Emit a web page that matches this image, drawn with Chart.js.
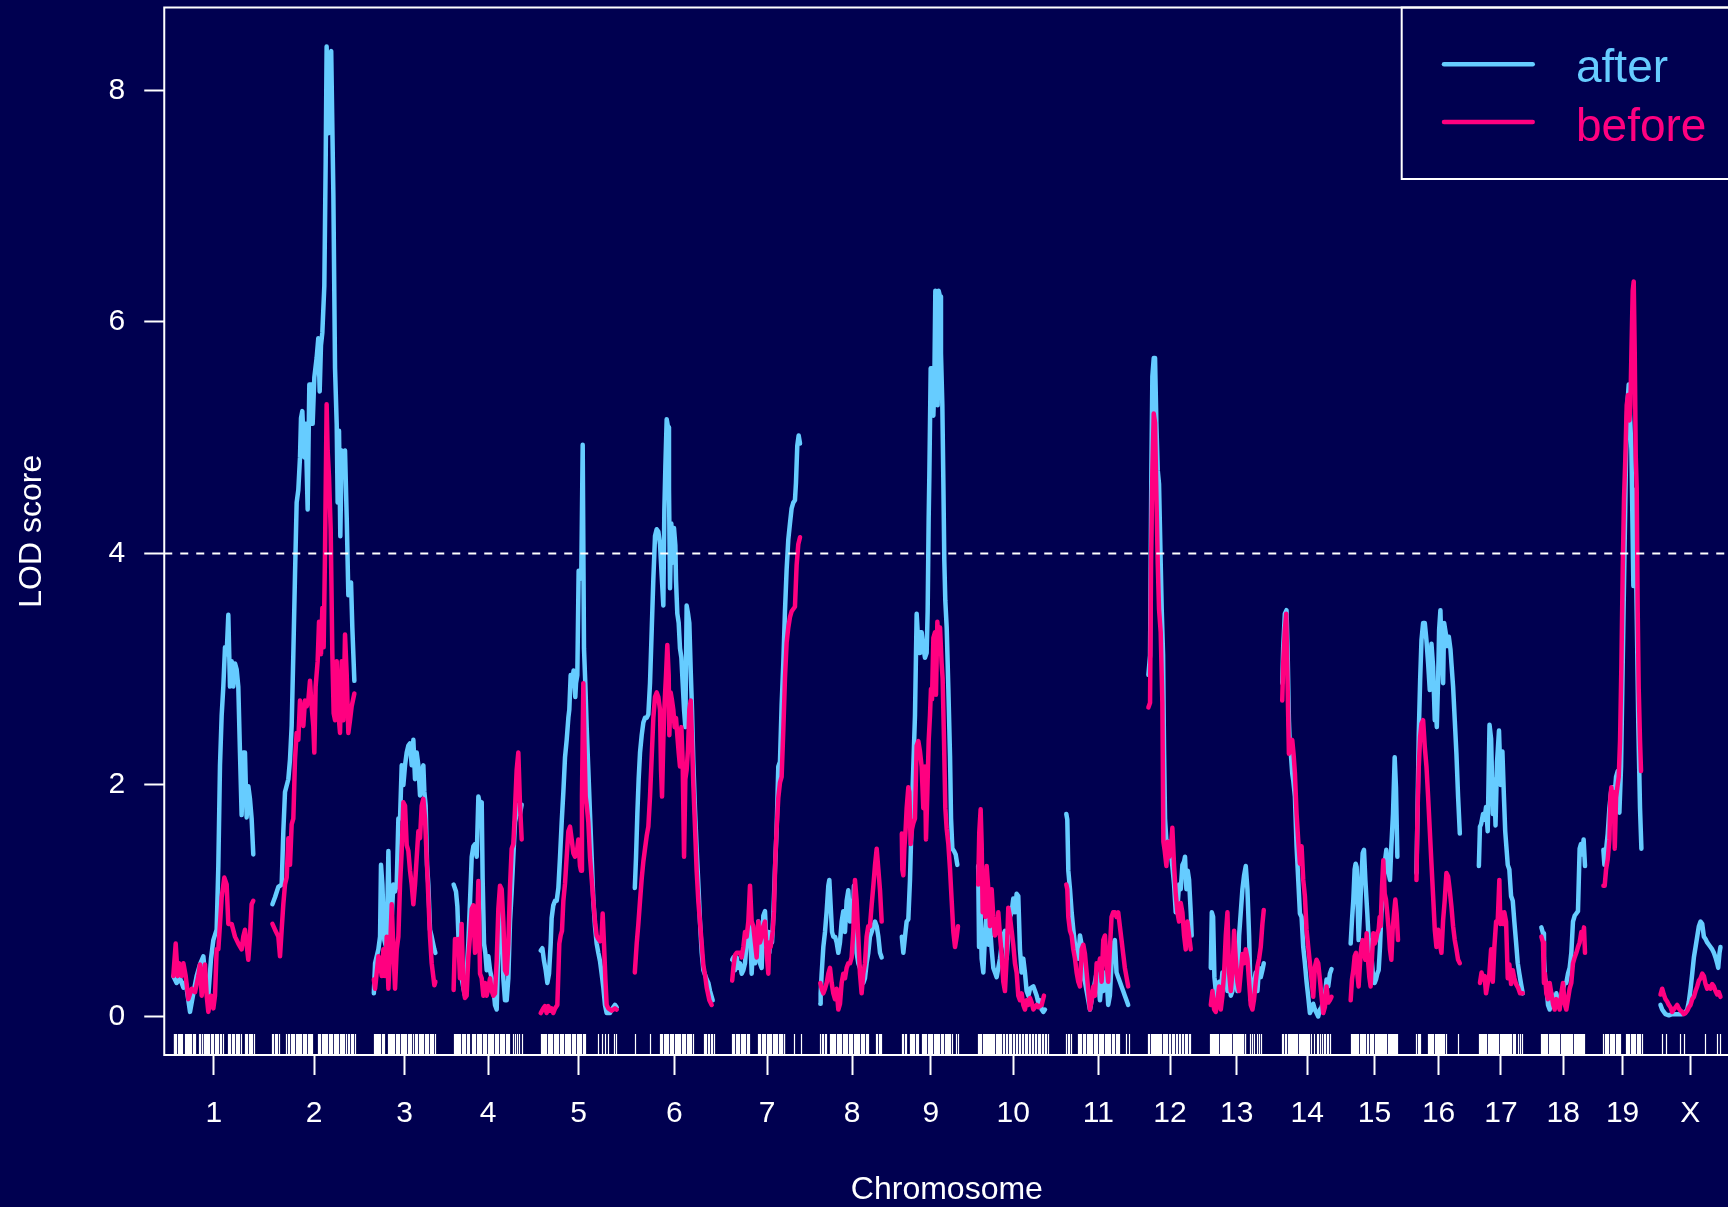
<!DOCTYPE html>
<html>
<head>
<meta charset="utf-8">
<title>LOD score by chromosome</title>
<script src="https://cdn.jsdelivr.net/npm/chart.js@4.4.1/dist/chart.umd.min.js"></script>
<style>
  html, body { margin: 0; padding: 0; background: #000050; overflow: hidden; }
  #wrap { width: 1740px; height: 1207px; }
  canvas { display: block; }
</style>
</head>
<body>
<div id="wrap"><canvas id="lod" width="1740" height="1207"></canvas></div>
<script>
// ---- genome layout (cM) ----
const chromNames = ['1','2','3','4','5','6','7','8','9','10','11','12','13','14','15','16','17','18','19','X'];
const chromLengths = [111.9, 115.1, 85.2, 95.3, 105.0, 109.5, 96.7, 87.6, 80.5, 96.7, 88.4, 59.8, 74.6, 70.0, 65.9, 61.2, 60.8, 61.2, 53.0, 83.7];
const chromGap = 25;
const yTicks = [0, 2, 4, 6, 8];
const lodThreshold = 4;
const seriesNames = ['after', 'before'];

// ---- LOD profiles: [position within chromosome (cM), LOD] ----
const chr1After = [[0,0.35],[4.6,0.29],[9.3,0.33],[13.9,0.25],[17.1,0.3],[23.1,0.04],[27.7,0.2],[32.3,0.35],[36.9,0.45],[41.5,0.52],[44.7,0.3],[48.4,0.18],[52.1,0.5],[55.3,0.66],[59.9,0.75],[62.2,1.3],[64.5,2.17],[66.8,2.6],[69.1,2.85],[71.4,3.19],[73.7,3.13],[76.0,3.47],[78.3,2.85],[80.6,3.07],[82.9,2.85],[85.2,3.05],[87.5,3.0],[89.8,2.85],[92.1,2.28],[94.4,1.74],[96.7,2.28],[99.0,2.28],[101.3,1.72],[103.6,1.99],[105.9,1.88],[108.2,1.71],[110.5,1.40]];
const chr1Before = [[0,0.35],[3.3,0.63],[6.0,0.35],[7.9,0.46],[11.6,0.35],[13.9,0.46],[17.1,0.35],[20.8,0.15],[25.4,0.24],[30.0,0.21],[34.6,0.35],[36.9,0.45],[39.2,0.18],[43.8,0.45],[46.1,0.18],[48.4,0.04],[52.1,0.18],[55.3,0.07],[57.6,0.18],[59.9,0.58],[62.2,0.58],[64.5,0.8],[66.8,1.03],[70.5,1.2],[73.7,1.14],[76.0,0.8],[80.6,0.8],[85.2,0.69],[89.8,0.63],[94.4,0.58],[96.7,0.69],[99.0,0.75],[103.6,0.49],[105.9,0.69],[108.2,0.97],[110.5,1.0]];
const chr2After = [[0,0.97],[3.6,1.03],[8.2,1.12],[12.8,1.14],[15.1,1.6],[17.4,1.94],[22.0,2.05],[24.3,2.22],[26.6,2.51],[28.9,3.13],[31.2,3.81],[33.5,4.44],[35.8,4.55],[38.1,4.83],[39.5,5.17],[41.3,5.23],[44.1,4.83],[45.9,5.12],[48.7,4.38],[51.0,5.46],[54.2,5.46],[55.6,5.12],[57.9,5.52],[61.1,5.69],[63.4,5.86],[65.3,5.4],[67.1,5.8],[69.0,5.91],[71.7,6.31],[73.6,7.39],[74.9,8.38],[77.3,7.63],[79.1,8.3],[81.2,8.34],[84.2,7.1],[86.5,5.6],[88.8,5.12],[90.1,4.44],[92.0,5.06],[93.8,4.15],[95.7,4.89],[98.0,4.83],[100.3,4.89],[102.6,4.32],[104.9,3.64],[108.6,3.75],[110.4,3.36],[113.2,2.9]];
const chr2Before = [[0,0.8],[3.6,0.75],[8.2,0.69],[10.5,0.52],[12.8,0.75],[15.1,0.97],[17.4,1.14],[19.7,1.2],[22.0,1.54],[24.3,1.31],[26.6,1.66],[28.9,1.71],[31.2,2.22],[33.5,2.45],[35.8,2.39],[38.1,2.73],[40.4,2.62],[42.7,2.51],[45.0,2.73],[47.3,2.68],[49.6,2.73],[51.9,2.9],[54.2,2.68],[56.5,2.51],[57.9,2.28],[59.7,2.85],[62.5,3.07],[64.4,3.41],[67.1,3.13],[69.0,3.53],[70.8,3.19],[72.6,3.98],[74.9,5.29],[76.3,4.89],[78.2,4.66],[80.5,4.21],[82.8,3.13],[84.6,2.62],[86.5,2.56],[88.8,3.07],[91.1,2.62],[93.4,2.45],[95.7,3.07],[98.0,2.56],[100.3,3.3],[102.6,2.96],[104.9,2.45],[107.2,2.56],[109.5,2.68],[113.2,2.79]];
const chr3After = [[0,0.2],[1.7,0.46],[6.3,0.58],[8.6,0.69],[9.9,1.31],[11.8,1.14],[14.5,0.66],[17.8,0.58],[20.1,1.43],[22.4,0.69],[24.7,0.86],[27.0,1.14],[29.3,1.08],[31.6,1.14],[33.9,1.71],[36.2,1.71],[38.5,2.17],[40.8,2.0],[43.1,2.17],[45.4,2.28],[47.7,2.34],[50.0,2.36],[52.3,2.17],[54.6,2.39],[56.9,2.05],[59.2,2.28],[61.5,2.17],[63.8,1.91],[66.1,2.11],[68.4,2.17],[69.8,1.94],[71.6,1.82],[73.5,1.31],[75.3,1.14],[77.6,0.75],[79.9,0.69],[83.6,0.58],[85.0,0.55]];
const chr3Before = [[0,0.32],[1.7,0.24],[6.3,0.52],[8.6,0.46],[10.9,0.35],[13.2,0.58],[15.5,0.35],[17.8,0.69],[20.1,0.24],[22.4,0.58],[24.7,0.97],[27.0,0.58],[29.3,0.24],[31.6,0.58],[33.9,0.69],[36.2,1.14],[38.5,1.43],[40.8,1.85],[43.1,1.82],[45.4,1.48],[47.7,1.43],[50.0,1.26],[52.3,1.14],[54.6,0.97],[56.9,1.14],[59.2,1.37],[61.5,1.6],[63.8,1.54],[66.1,1.82],[68.4,1.88],[70.7,1.71],[73.0,1.37],[75.3,1.03],[77.6,0.69],[79.9,0.46],[83.6,0.27],[85.0,0.3]];
const chr4After = [[0,1.14],[3.3,1.08],[5.2,0.95],[7.0,0.63],[8.8,0.56],[11.1,0.33],[13.4,0.25],[15.7,0.18],[18.0,0.36],[20.3,0.63],[22.7,1.0],[25.0,1.38],[27.3,1.47],[29.6,1.49],[31.9,1.38],[34.2,1.9],[36.5,1.83],[38.8,1.85],[40.1,1.19],[42.0,0.63],[43.8,0.55],[45.7,0.4],[48.0,0.52],[50.3,0.4],[52.6,0.33],[54.9,0.25],[57.2,0.1],[59.5,0.06],[61.8,0.63],[64.1,1.0],[66.4,0.82],[68.7,0.33],[71.0,0.14],[73.3,0.14],[75.6,0.33],[77.9,0.82],[80.2,1.08],[82.5,1.38],[84.8,1.68],[87.1,1.75],[89.4,1.83],[91.7,1.75],[94.0,1.83]];
const chr4Before = [[0,0.23],[1.9,0.67],[4.2,0.59],[6.5,0.67],[8.8,0.33],[11.1,0.8],[13.4,0.25],[15.7,0.16],[18.0,0.18],[20.3,0.51],[22.7,0.7],[25.0,0.93],[27.3,0.96],[29.6,0.55],[31.9,0.63],[34.2,1.17],[36.5,0.37],[38.8,0.33],[41.1,0.18],[43.4,0.29],[45.7,0.18],[48.0,0.25],[50.3,0.33],[52.6,0.22],[54.9,0.18],[57.2,0.2],[59.5,0.48],[61.8,0.93],[64.1,1.13],[66.4,1.1],[68.7,0.82],[71.0,0.4],[73.3,0.37],[75.6,0.63],[77.9,1.12],[80.2,1.45],[82.5,1.49],[84.8,1.79],[87.1,2.13],[89.4,2.28],[91.7,1.83],[94.0,1.53]];
const chr5After = [[0,0.57],[2.3,0.59],[4.6,0.48],[6.9,0.4],[9.2,0.29],[11.5,0.37],[13.8,0.63],[15.1,0.85],[17.4,0.96],[19.8,1.0],[22.1,1.0],[24.4,1.11],[26.7,1.38],[29.0,1.68],[31.3,1.94],[33.6,2.24],[35.9,2.39],[38.2,2.58],[39.5,2.65],[41.4,2.95],[43.2,2.88],[45.5,2.99],[47.8,2.76],[48.8,2.88],[50.6,2.95],[52.4,3.85],[54.3,3.78],[56.1,3.85],[58.0,4.94],[59.8,3.18],[61.6,2.88],[63.5,2.5],[65.8,2.13],[68.1,1.75],[70.4,1.38],[72.7,1.0],[75.0,0.78],[77.3,0.63],[79.6,0.55],[81.9,0.48],[84.2,0.37],[86.5,0.25],[88.8,0.1],[91.1,0.03],[95.7,0.03],[98.0,0.06],[102.6,0.1],[105.0,0.08]];
const chr5Before = [[0,0.03],[3.6,0.07],[5.9,0.09],[8.2,0.03],[10.5,0.09],[12.9,0.05],[15.1,0.07],[17.4,0.03],[19.8,0.07],[23.0,0.1],[25.7,0.63],[27.6,0.7],[29.4,0.74],[31.3,1.0],[33.6,1.15],[35.9,1.38],[38.2,1.6],[40.5,1.64],[42.8,1.53],[45.1,1.41],[47.4,1.38],[49.7,1.41],[52.0,1.53],[54.3,1.3],[55.7,1.26],[57.0,1.9],[58.9,2.88],[60.3,2.39],[62.1,1.9],[63.5,1.83],[65.8,1.68],[68.1,1.38],[70.4,1.19],[72.7,1.0],[75.0,0.82],[77.3,0.7],[79.6,0.67],[81.9,0.65],[84.2,0.7],[85.6,0.89],[87.4,0.63],[89.3,0.33],[91.1,0.1],[93.4,0.07],[98.0,0.05],[102.6,0.07],[105.0,0.06]];
const chr6After = [[0,1.11],[1.7,1.38],[3.5,1.75],[5.3,2.05],[7.2,2.28],[9.5,2.43],[11.8,2.54],[14.1,2.58],[16.4,2.58],[18.7,2.61],[21.0,2.88],[23.3,3.33],[25.6,3.78],[27.9,4.15],[30.2,4.21],[32.5,4.19],[34.8,4.08],[37.1,3.81],[39.4,3.55],[40.8,4.38],[42.2,4.75],[44.0,5.16],[45.9,5.09],[47.2,4.56],[48.6,3.7],[50.4,4.26],[52.3,3.92],[54.1,4.22],[56.0,4.07],[56.9,3.77],[58.7,3.48],[60.6,3.4],[62.4,3.18],[64.3,3.1],[66.1,2.88],[68.0,2.65],[69.8,2.5],[71.6,3.55],[73.5,3.48],[75.3,3.4],[77.2,2.99],[79.0,2.65],[80.8,2.2],[83.1,1.79],[85.4,1.45],[87.7,1.15],[90.1,0.81],[92.4,0.55],[94.7,0.4],[97.0,0.36],[99.3,0.32],[101.6,0.29],[103.9,0.22],[107.6,0.14]];
const chr6Before = [[0,0.38],[2.6,0.63],[4.9,0.8],[7.2,1.0],[9.5,1.19],[11.8,1.34],[14.1,1.45],[16.4,1.56],[18.7,1.64],[21.0,1.9],[23.3,2.24],[25.6,2.58],[27.9,2.76],[30.2,2.8],[32.5,2.76],[34.8,2.65],[36.2,2.13],[37.6,1.9],[39.4,2.39],[41.3,2.73],[43.1,2.95],[44.9,3.21],[46.8,2.95],[47.7,2.43],[49.5,2.8],[51.4,2.73],[53.2,2.65],[55.0,2.5],[56.9,2.58],[58.7,2.43],[60.6,2.28],[62.4,2.16],[64.3,2.5],[66.1,2.2],[68.0,1.38],[69.8,2.05],[71.6,2.13],[73.5,2.31],[75.3,2.65],[77.2,2.73],[79.0,2.39],[80.8,2.01],[83.1,1.64],[85.4,1.26],[87.7,1.0],[90.1,0.81],[92.4,0.63],[94.7,0.44],[97.0,0.36],[99.3,0.25],[103.0,0.14],[106.2,0.1]];
const chr7After = [[0,0.49],[1.6,0.51],[3.9,0.4],[6.2,0.51],[8.5,0.42],[10.8,0.46],[13.1,0.37],[15.4,0.4],[17.7,0.46],[20.0,0.64],[22.3,0.69],[24.6,0.78],[26.9,0.37],[29.2,0.69],[31.5,0.46],[33.8,0.51],[36.1,0.82],[38.4,0.46],[40.7,0.42],[43.0,0.87],[45.3,0.91],[47.6,0.6],[49.9,0.73],[51.3,0.55],[53.1,0.73],[55.0,0.64],[56.8,0.87],[59.1,1.27],[61.4,1.62],[63.7,2.16],[66.0,2.2],[68.3,2.69],[70.6,3.05],[72.9,3.5],[75.2,3.86],[77.5,4.12],[79.8,4.26],[82.1,4.39],[84.4,4.44],[86.7,4.46],[88.1,4.61],[89.9,4.93],[91.8,5.02],[93.7,4.95]];
const chr7Before = [[0,0.31],[1.6,0.42],[3.9,0.53],[6.2,0.55],[8.5,0.55],[10.8,0.55],[13.1,0.51],[15.4,0.6],[17.7,0.73],[20.0,0.69],[22.3,0.82],[24.6,1.13],[26.9,0.82],[29.2,0.78],[31.5,0.64],[33.8,0.51],[36.1,0.82],[38.4,0.64],[40.7,0.69],[43.0,0.78],[45.3,0.82],[47.6,0.55],[49.9,0.37],[51.3,0.64],[53.1,0.6],[55.9,0.73],[57.7,0.91],[59.6,1.36],[61.4,1.62],[63.7,1.89],[66.0,2.02],[68.3,2.07],[70.6,2.47],[72.9,2.92],[75.2,3.23],[77.5,3.36],[79.8,3.45],[82.1,3.5],[84.4,3.52],[86.7,3.54],[89.0,3.9],[91.3,4.08],[93.7,4.14]];
const chr8After = [[0,0.11],[0.5,0.2],[1.9,0.37],[4.2,0.6],[6.5,0.73],[8.8,0.91],[11.1,1.13],[12.5,1.18],[14.3,0.96],[16.2,0.73],[18.0,0.69],[20.3,0.69],[22.6,0.64],[24.9,0.55],[27.2,0.64],[29.5,0.82],[31.8,0.91],[34.1,0.73],[36.4,1.0],[38.7,1.09],[41.0,0.82],[43.3,1.0],[44.7,0.82],[46.5,1.13],[48.4,0.87],[50.2,0.55],[52.5,0.46],[54.8,0.42],[57.1,0.33],[59.4,0.29],[61.7,0.33],[64.0,0.46],[66.3,0.55],[68.6,0.69],[70.9,0.73],[73.3,0.78],[75.6,0.82],[77.9,0.78],[80.2,0.69],[82.5,0.55],[84.8,0.51]];
const chr8Before = [[0,0.29],[1.9,0.24],[4.2,0.2],[6.5,0.24],[8.8,0.29],[11.1,0.37],[13.4,0.42],[15.7,0.29],[18.0,0.2],[20.3,0.15],[22.6,0.24],[24.9,0.06],[27.2,0.11],[29.5,0.29],[31.8,0.37],[34.1,0.33],[36.4,0.42],[38.7,0.46],[41.0,0.46],[43.3,0.51],[45.6,0.73],[47.9,1.18],[50.2,1.0],[52.5,0.69],[54.8,0.37],[57.1,0.2],[59.4,0.37],[61.7,0.46],[64.0,0.69],[66.3,0.78],[68.6,0.78],[70.9,0.96],[73.3,1.13],[75.6,1.31],[77.9,1.45],[80.2,1.27],[82.5,1.09],[84.8,0.82]];
const chr9After = [[0,0.69],[0.7,0.64],[2.1,0.55],[4.4,0.69],[6.7,0.82],[9.0,0.84],[11.3,1.18],[13.6,1.71],[15.9,2.16],[18.2,2.6],[20.5,3.48],[21.9,3.32],[23.8,3.14],[25.1,3.32],[27.4,3.32],[29.7,3.19],[32.0,3.1],[34.3,3.14],[35.7,3.5],[37.1,4.3],[38.0,4.66],[39.9,5.6],[41.7,5.6],[43.6,5.19],[44.9,5.46],[46.3,6.27],[48.2,5.95],[49.5,5.28],[50.9,6.27],[52.8,6.22],[54.1,5.73],[56.0,5.28],[57.4,4.61],[58.7,3.94],[60.1,3.59],[62.0,3.36],[64.3,2.83],[66.6,2.25],[68.0,1.71],[69.8,1.45],[72.1,1.43],[74.4,1.4],[76.7,1.31]];
const chr9Before = [[0,1.58],[0.7,1.27],[2.1,1.22],[3.5,1.45],[5.3,1.62],[6.7,1.8],[9.0,1.98],[10.4,1.94],[12.2,1.49],[14.1,1.62],[15.9,1.67],[18.2,1.71],[20.5,2.34],[22.8,2.38],[25.1,2.29],[27.4,2.16],[29.7,1.8],[32.0,2.16],[33.4,1.53],[35.3,1.94],[37.1,2.38],[38.9,2.6],[40.3,2.83],[41.7,2.74],[43.6,3.27],[45.9,3.32],[47.2,2.78],[49.1,3.41],[50.9,3.14],[52.8,3.36],[55.0,3.05],[56.4,2.92],[58.3,2.38],[60.1,1.8],[62.0,1.62],[64.3,1.49],[66.6,1.27],[68.9,1.0],[71.2,0.73],[73.5,0.6],[75.8,0.69],[77.6,0.78]];
const chr10After = [[0,1.3],[1.2,0.6],[2.5,1.15],[4.8,0.5],[7.1,0.38],[9.4,0.7],[11.7,0.9],[14.0,0.62],[16.3,0.78],[18.6,0.58],[20.9,0.42],[23.2,0.38],[25.5,0.34],[27.8,0.42],[30.1,0.5],[32.4,0.62],[34.7,0.7],[37.0,0.74],[39.3,0.5],[41.6,0.7],[43.9,0.86],[46.2,0.9],[48.5,1.02],[50.8,0.9],[53.1,1.06],[55.4,1.04],[57.7,0.58],[60.0,0.38],[62.3,0.5],[64.6,0.38],[66.9,0.22],[69.3,0.18],[71.6,0.24],[76.2,0.26],[78.5,0.22],[80.8,0.18],[83.1,0.12],[85.4,0.14],[87.7,0.06],[90.0,0.04],[92.3,0.06]];
const chr10Before = [[0,1.14],[1.5,1.59],[3.4,1.79],[4.8,1.49],[6.2,0.9],[8.0,1.26],[9.9,0.86],[11.7,1.3],[14.0,1.1],[16.3,0.78],[18.6,1.1],[20.9,0.86],[23.2,0.7],[25.5,0.74],[27.8,0.9],[30.1,0.7],[32.4,0.54],[34.7,0.3],[37.0,0.22],[39.3,0.5],[41.6,0.94],[43.9,0.86],[46.2,0.74],[48.5,0.62],[50.8,0.46],[53.1,0.38],[55.4,0.18],[57.7,0.14],[60.0,0.2],[62.3,0.1],[64.6,0.06],[66.9,0.14],[69.3,0.1],[71.6,0.16],[73.9,0.12],[76.2,0.06],[80.8,0.1],[83.1,0.08],[87.7,0.1],[90.9,0.18]];
const chr11After = [[0,1.75],[1.4,1.7],[2.8,1.26],[5.1,1.1],[7.4,0.9],[9.7,0.75],[12.0,0.62],[14.3,0.54],[16.6,0.5],[18.9,0.7],[21.2,0.62],[23.5,0.34],[25.8,0.3],[28.1,0.22],[30.4,0.14],[32.7,0.06],[35.0,0.14],[37.3,0.22],[39.6,0.3],[41.9,0.38],[44.2,0.3],[46.5,0.14],[48.8,0.3],[51.1,0.22],[53.4,0.38],[55.6,0.34],[57.9,0.1],[60.2,0.18],[62.5,0.46],[64.8,0.62],[67.1,0.66],[69.4,0.38],[71.7,0.34],[74.0,0.3],[76.3,0.26],[78.6,0.22],[80.9,0.18],[83.2,0.14],[85.5,0.1]];
const chr11Before = [[0,1.14],[1.4,1.1],[2.8,0.86],[5.1,0.74],[7.4,0.7],[9.7,0.58],[12.0,0.5],[14.3,0.38],[16.6,0.3],[18.9,0.26],[21.2,0.58],[23.5,0.62],[25.8,0.54],[28.1,0.38],[30.4,0.22],[32.7,0.06],[35.0,0.14],[37.3,0.26],[39.6,0.18],[41.9,0.46],[44.2,0.42],[46.5,0.5],[48.8,0.3],[51.1,0.66],[53.4,0.7],[55.6,0.46],[57.9,0.3],[60.2,0.58],[62.5,0.86],[64.8,0.9],[67.1,0.9],[69.4,0.86],[71.7,0.9],[74.0,0.78],[76.3,0.66],[78.6,0.54],[80.9,0.42],[83.2,0.34],[85.5,0.26]];
const chr12After = [[0,2.95],[2.3,3.12],[4.1,4.72],[5.5,5.53],[7.4,5.69],[9.2,5.69],[11.0,5.13],[12.9,4.72],[14.7,4.6],[17.0,3.92],[18.4,3.52],[20.3,3.12],[21.6,2.31],[23.0,1.71],[24.9,1.51],[26.7,1.38],[28.5,1.51],[30.8,1.43],[33.1,1.3],[35.5,1.14],[37.8,0.9],[40.1,0.94],[42.4,1.14],[44.7,1.1],[47.0,1.31],[49.3,1.34],[50.6,1.38],[52.5,1.1],[54.3,1.26],[56.2,1.18],[58.5,0.9],[59.8,0.7]];
const chr12Before = [[0,2.67],[2.3,2.71],[3.7,3.92],[5.5,4.72],[7.4,5.21],[9.2,5.13],[11.0,4.52],[12.9,3.92],[14.7,3.52],[17.0,3.32],[19.3,2.71],[20.7,1.51],[22.6,1.43],[24.9,1.3],[26.7,1.51],[28.5,1.38],[30.8,1.43],[33.1,1.63],[35.5,1.3],[37.8,1.06],[40.1,0.9],[42.4,0.82],[44.7,0.98],[47.0,0.9],[49.3,0.7],[51.6,0.58],[53.9,0.82],[56.2,0.7],[58.5,0.58]];
const chr13After = [[1.4,0.42],[2.8,0.9],[4.6,0.86],[6.4,0.34],[8.3,0.22],[10.6,0.14],[12.9,0.3],[15.2,0.22],[17.5,0.38],[19.8,0.3],[22.1,0.42],[24.4,0.22],[26.7,0.38],[29.0,0.18],[31.3,0.22],[33.6,0.5],[35.9,0.3],[38.2,0.22],[40.5,0.7],[42.8,0.9],[45.1,1.1],[47.4,1.22],[49.7,1.3],[52.0,1.1],[54.3,0.7],[56.6,0.14],[58.9,0.14],[61.2,0.3],[63.5,0.38],[65.8,0.22],[68.1,0.42],[70.4,0.34],[72.7,0.4],[74.6,0.46]];
const chr13Before = [[1.4,0.1],[3.7,0.22],[6.0,0.06],[8.3,0.04],[10.6,0.14],[12.9,0.26],[15.2,0.06],[17.5,0.18],[19.8,0.38],[22.1,0.7],[24.4,0.9],[26.7,0.38],[29.0,0.22],[31.3,0.38],[33.6,0.74],[35.9,0.5],[38.2,0.3],[40.5,0.22],[42.8,0.38],[45.1,0.54],[47.4,0.46],[49.7,0.58],[52.0,0.5],[54.3,0.3],[56.6,0.1],[58.9,0.06],[61.2,0.15],[63.5,0.3],[65.8,0.43],[68.1,0.5],[70.4,0.6],[72.7,0.8],[74.6,0.92]];
const chr14After = [[0.5,2.88],[1.8,3.19],[4.1,3.48],[6.4,3.51],[7.8,3.19],[9.7,2.56],[11.0,2.33],[12.4,2.27],[14.3,2.1],[15.7,2.04],[18.0,1.9],[20.3,1.47],[22.6,1.18],[24.9,0.89],[27.2,0.86],[29.5,0.6],[31.8,0.46],[34.1,0.3],[36.4,0.17],[38.7,0.03],[41.0,0.06],[43.3,0.11],[45.6,0.06],[47.9,0.03],[50.2,0.0],[52.5,0.06],[54.8,0.08],[57.1,0.14],[59.4,0.17],[61.7,0.32],[64.0,0.26],[66.3,0.37],[68.6,0.41]];
const chr14Before = [[0.5,2.73],[1.8,3.05],[4.1,3.34],[6.0,3.48],[7.8,2.9],[9.7,2.27],[12.4,2.33],[14.3,2.39],[16.1,2.27],[18.0,2.1],[20.3,1.75],[22.6,1.52],[24.9,1.32],[27.2,1.47],[29.5,1.18],[31.8,1.04],[34.1,0.75],[36.4,0.6],[38.7,0.46],[41.0,0.32],[43.3,0.17],[45.6,0.43],[47.9,0.49],[50.2,0.46],[52.5,0.32],[54.8,0.17],[57.1,0.03],[59.4,0.08],[61.7,0.26],[64.0,0.12],[66.3,0.14],[68.6,0.17]];
const chr15After = [[0,0.63],[1.8,0.83],[3.7,1.01],[5.5,1.27],[6.9,1.32],[8.3,1.29],[9.7,0.95],[11.0,0.66],[12.9,0.89],[14.7,1.18],[16.6,1.41],[18.4,1.44],[20.3,1.18],[21.6,1.04],[23.0,0.89],[24.9,0.66],[26.2,0.66],[27.6,0.6],[29.5,0.46],[31.3,0.32],[33.1,0.29],[35.0,0.32],[36.8,0.37],[38.7,0.4],[40.5,0.6],[42.4,0.89],[44.7,1.04],[47.0,1.32],[49.3,1.44],[50.6,1.32],[52.5,1.24],[54.3,1.18],[56.2,1.47],[58.5,1.75],[60.8,2.24],[62.6,1.98],[64.5,1.38]];
const chr15Before = [[0,0.14],[1.8,0.32],[3.7,0.4],[5.5,0.52],[7.4,0.55],[9.2,0.37],[11.0,0.26],[12.9,0.46],[14.7,0.6],[16.6,0.66],[18.4,0.55],[20.3,0.49],[22.1,0.72],[23.9,0.49],[25.8,0.34],[27.6,0.26],[29.5,0.52],[31.3,0.72],[33.1,0.63],[35.0,0.66],[36.8,0.72],[38.7,0.75],[40.1,0.86],[41.4,0.78],[43.3,1.12],[45.1,1.35],[47.0,1.06],[48.8,1.01],[50.6,0.89],[52.5,0.75],[54.3,0.58],[56.2,0.49],[58.0,0.75],[59.9,0.89],[61.7,1.01],[63.5,0.89],[65.4,0.66]];
const chr16After = [[0,1.24],[1.4,1.75],[3.2,2.45],[5.1,2.91],[6.9,3.25],[9.2,3.4],[11.5,3.4],[13.8,3.25],[16.1,3.05],[18.4,2.82],[20.7,3.22],[23.0,3.02],[25.3,2.56],[26.7,2.68],[28.1,2.5],[29.9,2.91],[31.3,3.34],[33.1,3.51],[34.5,3.2],[36.8,2.88],[38.2,3.4],[40.5,3.31],[42.8,3.2],[44.7,3.28],[47.0,3.17],[48.3,3.05],[50.6,2.85],[52.9,2.56],[55.2,2.27],[57.5,1.9],[59.9,1.58]];
const chr16Before = [[0,1.18],[1.4,1.75],[3.2,2.16],[5.1,2.42],[6.9,2.53],[9.2,2.56],[11.5,2.33],[13.8,2.16],[16.1,1.9],[18.4,1.61],[20.7,1.32],[23.0,1.04],[25.3,0.75],[27.6,0.6],[29.9,0.75],[32.2,0.63],[34.5,0.55],[36.8,0.83],[39.1,1.01],[41.4,1.24],[43.7,1.21],[46.0,1.09],[48.3,0.95],[50.6,0.78],[52.9,0.66],[55.2,0.58],[57.5,0.49],[59.9,0.46]];
const chr17After = [[0,1.3],[1.5,1.64],[3.0,1.66],[5.8,1.75],[7.6,1.7],[9.9,1.81],[12.2,1.6],[14.7,2.52],[16.9,2.4],[19.3,1.75],[21.1,2.05],[23.0,1.65],[25.1,2.2],[27.8,2.47],[30.2,2.0],[32.5,2.29],[34.6,1.9],[36.4,1.6],[39.9,1.31],[42.1,1.27],[44.5,1.04],[46.8,1.0],[49.0,0.82],[51.4,0.64],[53.7,0.46],[55.9,0.37],[58.3,0.28],[60.6,0.2]];
const chr17Before = [[1.5,0.29],[3.7,0.38],[5.8,0.32],[7.9,0.35],[9.9,0.2],[12.3,0.29],[14.5,0.37],[16.9,0.58],[19.2,0.3],[21.4,0.6],[23.8,0.82],[26.1,0.83],[28.3,1.18],[29.7,0.8],[31.4,0.9],[33.4,0.8],[35.2,0.9],[37.6,0.82],[39.9,0.33],[42.1,0.45],[44.5,0.28],[46.8,0.4],[49.0,0.33],[51.4,0.28],[54.1,0.25],[56.9,0.2],[60.6,0.2]];
const chr18After = [[0.5,0.77],[2.8,0.72],[4.1,0.51],[5.5,0.33],[7.4,0.28],[9.7,0.1],[12.0,0.06],[14.3,0.2],[16.6,0.15],[18.9,0.1],[21.2,0.2],[23.5,0.13],[25.8,0.1],[28.1,0.15],[30.4,0.24],[32.7,0.29],[35.0,0.29],[37.3,0.37],[39.6,0.42],[41.9,0.55],[44.2,0.82],[46.5,0.87],[48.8,0.89],[51.1,0.91],[53.4,1.45],[55.2,1.49],[57.1,1.4],[58.9,1.53],[60.8,1.3]];
const chr18Before = [[0.5,0.69],[2.8,0.64],[4.1,0.29],[5.5,0.37],[7.4,0.2],[9.7,0.15],[12.0,0.29],[14.3,0.2],[16.6,0.11],[18.9,0.06],[21.2,0.15],[23.5,0.11],[25.8,0.06],[28.1,0.2],[30.4,0.29],[32.7,0.11],[35.0,0.06],[37.3,0.15],[39.6,0.24],[41.9,0.29],[44.2,0.46],[46.5,0.51],[48.8,0.55],[51.1,0.6],[53.4,0.64],[55.7,0.73],[58.0,0.69],[59.4,0.77],[60.8,0.55]];
const chr19After = [[0,1.44],[1.4,1.31],[3.7,1.44],[6.0,1.58],[8.3,1.8],[10.6,1.94],[12.9,1.98],[15.2,1.89],[17.5,2.07],[19.8,2.12],[22.1,1.76],[24.4,2.16],[26.7,3.05],[29.0,3.94],[31.3,4.84],[33.1,5.28],[35.0,5.46],[38.7,4.9],[41.4,3.72],[43.7,4.55],[46.0,3.5],[48.3,2.5],[50.6,1.8],[52.5,1.45]];
const chr19Before = [[0,1.13],[1.8,1.13],[3.7,1.27],[6.0,1.36],[8.3,1.53],[9.7,1.89],[11.0,1.98],[12.9,1.71],[14.3,1.94],[15.7,1.45],[17.5,1.89],[19.3,1.98],[21.2,2.07],[23.0,2.38],[24.9,3.05],[26.7,3.86],[28.5,4.48],[30.4,4.84],[32.2,5.28],[34.1,5.37],[35.9,5.15],[37.3,5.28],[38.7,5.73],[40.5,6.27],[41.9,6.35],[43.3,5.73],[44.7,4.84],[46.0,4.57],[47.4,3.5],[48.8,2.83],[50.6,2.38],[52.0,2.12]];
const chrXAfter = [[0.9,0.1],[3.2,0.06],[5.5,0.04],[7.8,0.02],[12.4,0.01],[17.0,0.02],[21.6,0.02],[26.2,0.02],[30.8,0.02],[35.5,0.04],[37.8,0.06],[40.1,0.13],[42.4,0.24],[44.7,0.37],[47.0,0.51],[49.3,0.6],[51.6,0.69],[53.9,0.78],[56.2,0.82],[58.5,0.8],[60.8,0.69],[63.1,0.67],[65.4,0.64],[67.7,0.62],[70.0,0.6],[72.3,0.58],[74.6,0.55],[76.9,0.51],[79.2,0.46],[80.6,0.42],[82.4,0.55],[83.7,0.6]];
const chrXBefore = [[0.9,0.19],[3.2,0.24],[5.5,0.19],[7.8,0.15],[10.1,0.13],[12.4,0.1],[14.7,0.08],[17.0,0.04],[19.3,0.06],[21.6,0.08],[24.0,0.1],[26.2,0.07],[28.5,0.05],[30.8,0.04],[33.1,0.02],[35.5,0.03],[37.8,0.05],[40.1,0.08],[42.4,0.1],[44.7,0.15],[47.0,0.17],[49.3,0.22],[51.6,0.26],[53.9,0.31],[56.2,0.33],[58.5,0.37],[60.8,0.35],[63.1,0.28],[65.4,0.24],[67.7,0.26],[70.0,0.24],[72.3,0.28],[74.6,0.26],[76.9,0.22],[79.2,0.19],[81.5,0.21],[83.7,0.17]];

const afterScans = [chr1After, chr2After, chr3After, chr4After, chr5After, chr6After, chr7After, chr8After, chr9After, chr10After, chr11After, chr12After, chr13After, chr14After, chr15After, chr16After, chr17After, chr18After, chr19After, chrXAfter];
const beforeScans = [chr1Before, chr2Before, chr3Before, chr4Before, chr5Before, chr6Before, chr7Before, chr8Before, chr9Before, chr10Before, chr11Before, chr12Before, chr13Before, chr14Before, chr15Before, chr16Before, chr17Before, chr18Before, chr19Before, chrXBefore];

// ---- genetic markers (cM within chromosome), drawn as a rug ----
const markers1 = [0.5,1.5,3,4,6,7.5,9,10.5,12.5,16,17.5,19,20.5,22,23.5,25,27,28.5,30.5,36,37.5,39,40,42,43.5,45,47,48.5,50,51.5,53,55.5,57,58.5,60,62,64,66,68,76,77.5,79,81,82.5,84,86,87.5,89,91,93.5,99,100.5,102,104,105.5,107,109,111];
const markers2 = [0,1.5,3,5,6.5,9,19,21,23,25,27,28.5,30,32,33.5,35,37,38.5,40,42,43.5,45,47,48.5,50,52,53.5,55,63,64.5,66,68,69.5,71,73,74.5,76,78,79.5,81,83,84.5,86,88,89.5,91,93,94.5,96,98,99,102,104,106,108,110,112,114];
const markers3 = [0,1.5,3,4.5,6,7.5,9,11,12.5,14,19,20.5,22,23.5,25,27,28.5,30,32,33.5,35,37,38.5,40,42,43.5,45,47,48.5,50,52,54,57,58.5,60,62,63.5,65,67,68.5,70,72,73.5,75,77,78.5,80,82,84];
const markers4 = [0,1.5,3,4.5,6,8,9.5,11,13,14.5,16,18,19.5,21,25.5,27,28.5,30,32,33.5,35,37,38.5,40,42,43.5,45,47,48.5,50,52,53.5,55,57,58.5,60,62,63.5,65,67,68.5,70,72,73.5,75,77,82,85,88,91,94];
const markers5 = [0,1.5,3,4.5,6,8,9.5,11,13,14.5,16,18,19.5,21,23,24.5,26,28,29.5,31,33,34.5,36,38,39.5,41,43,44.5,46,48,49.5,51,53,54.5,56,58,59.5,61,79,84,89,93,101,104];
const markers6 = [0,21,35,36.5,38,40,41.5,43,45,46.5,48,50,51.5,53,55,56.5,58,60,61.5,63,65,66.5,68,70,71.5,73,75,76.5,78,80,95,97,99,101,103,105,107,109];
const markers7 = [0,1.5,3,5,6.5,8,10,11.5,13,15,16.5,18,20,21.5,23,36,37.5,39,41,42.5,44,46,47.5,49,51,52.5,54,56,57.5,59,61,62.5,64,66,67.5,69,71,72,85,95];
const markers8 = [0,2,4,6,8,13,14.5,16,18,19.5,21,23,24,26,27.5,29,31,32.5,34,36,37.5,39,41,42.5,44,46,47.5,49,51,52.5,54,56,57.5,59,61,62.5,64,66,77,79,81,83,84.5];
const markers9 = [0,2,4,6,11,12.5,14,16,17.5,19,21,22,27.5,29,30.5,32,34,35.5,37,39,40.5,42,44,45.5,47,49,50.5,52,54,55.5,57,59,60.5,62,64,65.5,67,69,75,78];
const markers10 = [0,1.5,3,4.5,6,7.5,9,10.5,12,13.5,15,16.5,18,19.5,21,22.5,24,25.5,27,28.5,30,32,34,36,38,40,42,44,46,48,50,52,54,56,58,60,62,64,66,68,70,72,74,76,78,80,82,84,86,88,90,92,94,96];
const markers11 = [0,2,4,6.5,16.5,18,19.5,21,23,24.5,26,28,29.5,31,33,34.5,36,38,39.5,41,43,44.5,46,48,49.5,51,53,54.5,56,58,59.5,61,63,64.5,66,68,69.5,71,73,83,86];
const markers12 = [0,1.5,3,4.5,6,7.5,9,10.5,12,13.5,15,16.5,18,19.5,21,22.5,24,26,28,30,32,34,36,38,40,42,44,46,48,50,52,54,56,58];
const markers13 = [0,1.5,3,4.5,6,7.5,9,10.5,12,13.5,15,16.5,18,19.5,21,22.5,24,25.5,27,28.5,30,31.5,33,34.5,36,37.5,39,40.5,42,43.5,45,46.5,48,49,55,58,61,65,68,71];
const markers14 = [0,2,4,6,8,9.5,11,12.5,14,15.5,17,18.5,20,21.5,23,24.5,26,27.5,29,30.5,32,33.5,35,36.5,38,40,45,48,50,52,55,58,60,62,64,67];
const markers15 = [0,1.5,3,4.5,6,7.5,9,10,13,14.5,16,17.5,19,20.5,22,23.5,27,28.5,30,31.5,33,34.5,36,37.5,39,40.5,42,43.5,45,46.5,48,49.5,51,52.5,54,55.5,57,58.5,60,61.5,63,64];
const markers16 = [0,2,3.5,5.5,16,17.5,19,20.5,22,23.5,25,26.5,28,29.5,31,32.5,34,35.5,37,38.5,40.5,57];
const markers17 = [0,1.5,3,4.5,6,7.5,9,10.5,12,13.5,15,16.5,18,19.5,21,22.5,24,25.5,27,28.5,30,31.5,33,34.5,36,37.5,39,40.5,42,43.5,45,46.5,48,50,54,57,60];
const markers18 = [0,1.5,3,4.5,6,7.5,9,10.5,12,13.5,15,16.5,18,19.5,21,22.5,24,25.5,27,28.5,30,31.5,33,34.5,36,37.5,39,40.5,42,43.5,45,46.5,48,49.5,51,52.5,54,55.5,57,58.5,60];
const markers19 = [0,2,3.5,5,7,8.5,10,12,13.5,15,17,18.5,20,22,23,31,32.5,34,36,37.5,39,41,42.5,44,46,47.5,49,51,53];
const markersX = [2.5,8.5,28,33.5,62.5,78.5,83.5];
const markerSets = [markers1, markers2, markers3, markers4, markers5, markers6, markers7, markers8, markers9, markers10, markers11, markers12, markers13, markers14, markers15, markers16, markers17, markers18, markers19, markersX];

// ---- colours and fonts ----
const colAfter = '#66ccff';
const colBefore = '#ff0080';
const colInk = '#ffffff';
const fontFamily = '"Liberation Sans", Arial, Helvetica, sans-serif';

// ---- chromosome offsets along the genome axis ----
const chromOffsets = [];
let runningPos = 0;
chromLengths.forEach((len) => { chromOffsets.push(runningPos); runningPos += len + chromGap; });
const genomeEnd = chromOffsets[chromOffsets.length - 1] + chromLengths[chromLengths.length - 1];
const chromMids = chromLengths.map((len, i) => chromOffsets[i] + len / 2);

// ---- datasets: one line per chromosome per scan ----
const datasets = [];
[['after', afterScans, colAfter, 1], ['before', beforeScans, colBefore, 0]].forEach(([name, scans, colour, order]) => {
  scans.forEach((scan, i) => {
    datasets.push({
      label: name + ' chr' + chromNames[i],
      data: scan.map(([pos, lod]) => ({ x: chromOffsets[i] + pos, y: lod })),
      showLine: true,
      borderColor: colour,
      backgroundColor: colour,
      borderWidth: 4.5,
      borderCapStyle: 'round',
      borderJoinStyle: 'round',
      pointRadius: 0,
      pointHoverRadius: 0,
      tension: 0,
      fill: false,
      order: order
    });
  });
});

// ---- frame, threshold line, marker rug and legend ----
const decorations = {
  id: 'decorations',
  afterDatasetsDraw(chart) {
    const { ctx, chartArea: a, scales: { x, y } } = chart;
    ctx.save();

    // significance threshold
    const ty = y.getPixelForValue(lodThreshold);
    ctx.strokeStyle = colInk;
    ctx.lineWidth = 2;
    ctx.setLineDash([8, 8]);
    ctx.beginPath();
    ctx.moveTo(a.left, ty);
    ctx.lineTo(a.right, ty);
    ctx.stroke();
    ctx.setLineDash([]);

    // marker rug along the bottom of the plot
    ctx.lineWidth = 1.2;
    const rugBottom = a.bottom;
    const rugTop = a.bottom - 21;
    markerSets.forEach((set, i) => {
      set.forEach((pos) => {
        const px = Math.round(x.getPixelForValue(chromOffsets[i] + pos)) + 0.5;
        ctx.beginPath();
        ctx.moveTo(px, rugTop);
        ctx.lineTo(px, rugBottom);
        ctx.stroke();
      });
    });

    // plot frame
    ctx.lineWidth = 2;
    ctx.strokeRect(a.left, a.top, a.right - a.left, a.bottom - a.top);

    // legend
    const lx = 1401.7, ltop = a.top, lbottom = 179;
    ctx.strokeRect(lx, ltop, 400, lbottom - ltop);
    const entries = [[seriesNames[0], colAfter, 64.3, 81.7], [seriesNames[1], colBefore, 122, 140.7]];
    ctx.font = '46px ' + fontFamily;
    ctx.textBaseline = 'alphabetic';
    ctx.textAlign = 'left';
    entries.forEach(([label, colour, lineY, baseY]) => {
      ctx.strokeStyle = colour;
      ctx.lineWidth = 4.5;
      ctx.lineCap = 'round';
      ctx.beginPath();
      ctx.moveTo(1444, lineY);
      ctx.lineTo(1532.7, lineY);
      ctx.stroke();
      ctx.fillStyle = colour;
      ctx.fillText(label, 1576, baseY);
    });
    ctx.restore();
  }
};

const canvasWidth = 1740;
const plotLeft = 164.25;
const plotRight = 1729.5;
const plotTop = 7.5;
const plotBottom = 1055;

new Chart(document.getElementById('lod'), {
  type: 'scatter',
  data: { datasets },
  options: {
    responsive: false,
    animation: false,
    devicePixelRatio: 1,
    events: [],
    layout: { padding: { left: 0, top: plotTop, right: canvasWidth - plotRight, bottom: 0 } },
    plugins: { legend: { display: false }, tooltip: { enabled: false } },
    scales: {
      x: {
        type: 'linear',
        min: -chromGap / 2,
        max: genomeEnd + chromGap / 2,
        afterBuildTicks: (s) => { s.ticks = chromMids.map((v) => ({ value: v })); },
        afterFit: (s) => { s.height = 1207 - plotBottom; s.paddingLeft = 0; s.paddingRight = 0; },
        grid: { display: true, drawOnChartArea: false, drawTicks: true, tickLength: 20, tickWidth: 2, tickColor: colInk, color: colInk },
        border: { display: false },
        ticks: {
          autoSkip: false, maxRotation: 0, minRotation: 0,
          padding: 24,
          color: colInk,
          font: { family: fontFamily, size: 30, lineHeight: 1 },
          callback: (v, i) => chromNames[i]
        },
        title: { display: true, text: 'Chromosome', color: colInk, font: { family: fontFamily, size: 32, lineHeight: 1 }, padding: { top: 0, bottom: 1 } }
      },
      y: {
        type: 'linear',
        min: -0.3326,
        max: 8.717,
        afterBuildTicks: (s) => { s.ticks = yTicks.map((v) => ({ value: v })); },
        afterFit: (s) => { s.width = plotLeft; s.paddingTop = 0; s.paddingBottom = 0; },
        grid: { display: true, drawOnChartArea: false, drawTicks: true, tickLength: 20, tickWidth: 2, tickColor: colInk, color: colInk },
        border: { display: false },
        ticks: {
          padding: 19,
          color: colInk,
          font: { family: fontFamily, size: 30, lineHeight: 1 },
          callback: (v) => String(v)
        },
        title: { display: true, text: 'LOD score', color: colInk, font: { family: fontFamily, size: 32, lineHeight: 1 }, padding: { top: 16, bottom: 0 } }
      }
    }
  },
  plugins: [decorations]
});
</script>
</body>
</html>
